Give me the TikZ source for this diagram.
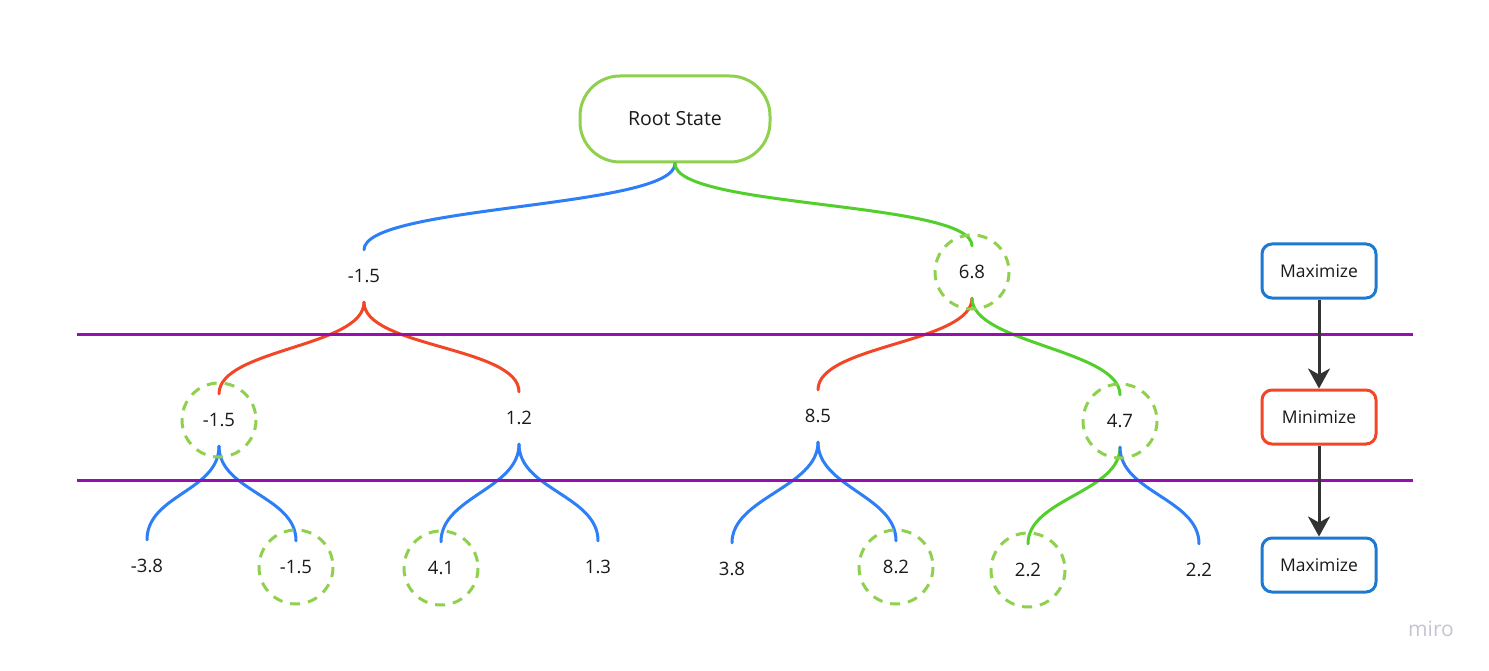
\documentclass[tikz,border=0pt]{standalone}
\usepackage{fontspec}
\setmainfont{Open Sans}
\usetikzlibrary{arrows.meta,shapes.misc}
\definecolor{txt}{HTML}{1A1A1A}
\definecolor{rootgreen}{HTML}{8FD14F}
\definecolor{edgeblue}{HTML}{2D7EF7}
\definecolor{edgered}{HTML}{F24726}
\definecolor{edgegreen}{HTML}{52CF2C}
\definecolor{bandpurple}{HTML}{9510AC}
\definecolor{boxblue}{HTML}{1C7AD2}
\definecolor{arrowdark}{HTML}{333333}
\definecolor{wmgray}{HTML}{C5C5D2}
\tikzset{
  val/.style={circle, minimum size=52pt, inner sep=0pt, text=txt,
              font=\fontsize{18.5}{22}\selectfont},
  bestring/.style={rootgreen, line width=3pt, dash pattern=on 10pt off 8pt},
  edge/.style={line width=3pt, line cap=round},
  eblue/.style={edge, edgeblue},
  ered/.style={edge, edgered},
  egreen/.style={edge, edgegreen},
  band/.style={bandpurple, line width=3pt},
  rootbox/.style={draw=rootgreen, line width=3pt, rounded corners=40pt,
                  minimum width=190pt, minimum height=86pt, text=txt,
                  font=\fontsize{19.5}{23}\selectfont},
  modebox/.style={line width=3pt, rounded corners=10pt, minimum width=114pt,
                  minimum height=54pt, text=txt, font=\fontsize{17.5}{21}\selectfont},
  flow/.style={arrowdark, line width=3pt,
               -{Stealth[length=20pt,width=22pt,inset=6pt]}},
}
\newcommand{\link}[3]{\draw[#1] (#2.south) .. controls +(0,45) and +(0,-45) .. (#3.north);}
\begin{document}
\begin{tikzpicture}[x=1pt,y=-1pt]
\useasboundingbox (0,0) rectangle (1489,671);
\fill[white] (0,0) rectangle (1489,671);

% nodes
\node[rootbox] (root) at (675,119) {Root State};
\node[val] (a) at (364,276) {-1.5};
\node[val] (b) at (972,272) {6.8};
\node[val] (c) at (219,420) {-1.5};
\node[val] (d) at (519,418) {1.2};
\node[val] (e) at (818,416) {8.5};
\node[val] (f) at (1120,421) {4.7};
\node[val] (g) at (147,566) {-3.8};
\node[val] (h) at (296,567) {-1.5};
\node[val] (i) at (441,568) {4.1};
\node[val] (j) at (598,567) {1.3};
\node[val] (k) at (732,569) {3.8};
\node[val] (l) at (896,567) {8.2};
\node[val] (m) at (1028,570) {2.2};
\node[val] (n) at (1199,570) {2.2};

% connectors
\draw[eblue] (root.south) .. controls +(0,45) and +(0,-45) .. (a.north);
\draw[egreen] (root.south) .. controls +(0,45) and +(0,-45) .. (b.north);
\link{ered}{a}{c}
\link{ered}{a}{d}
\link{ered}{b}{e}
\link{egreen}{b}{f}
\link{eblue}{c}{g}
\link{eblue}{c}{h}
\link{eblue}{d}{i}
\link{eblue}{d}{j}
\link{eblue}{e}{k}
\link{eblue}{e}{l}
\link{egreen}{f}{m}
\link{eblue}{f}{n}

% highlighted values
\foreach \v in {b,c,f,h,i,l,m} {
  \draw[bestring] (\v.center) circle[radius=37];
}

% level bands
\draw[band] (77,334) -- (1413,334);
\draw[band] (77,480) -- (1413,480);

% legend
\node[modebox, draw=boxblue, fill=white] (max1) at (1319,271) {Maximize};
\node[modebox, draw=edgered, fill=white] (min1) at (1319,417) {Minimize};
\node[modebox, draw=boxblue, fill=white] (max2) at (1319,565) {Maximize};
\draw[flow] (max1.south) -- (min1.north);
\draw[flow] (min1.south) -- (max2.north);

% watermark
\node[text=wmgray, font=\fontsize{21}{24}\selectfont] (wm) at (1431,629) {miro};
\end{tikzpicture}
\end{document}
